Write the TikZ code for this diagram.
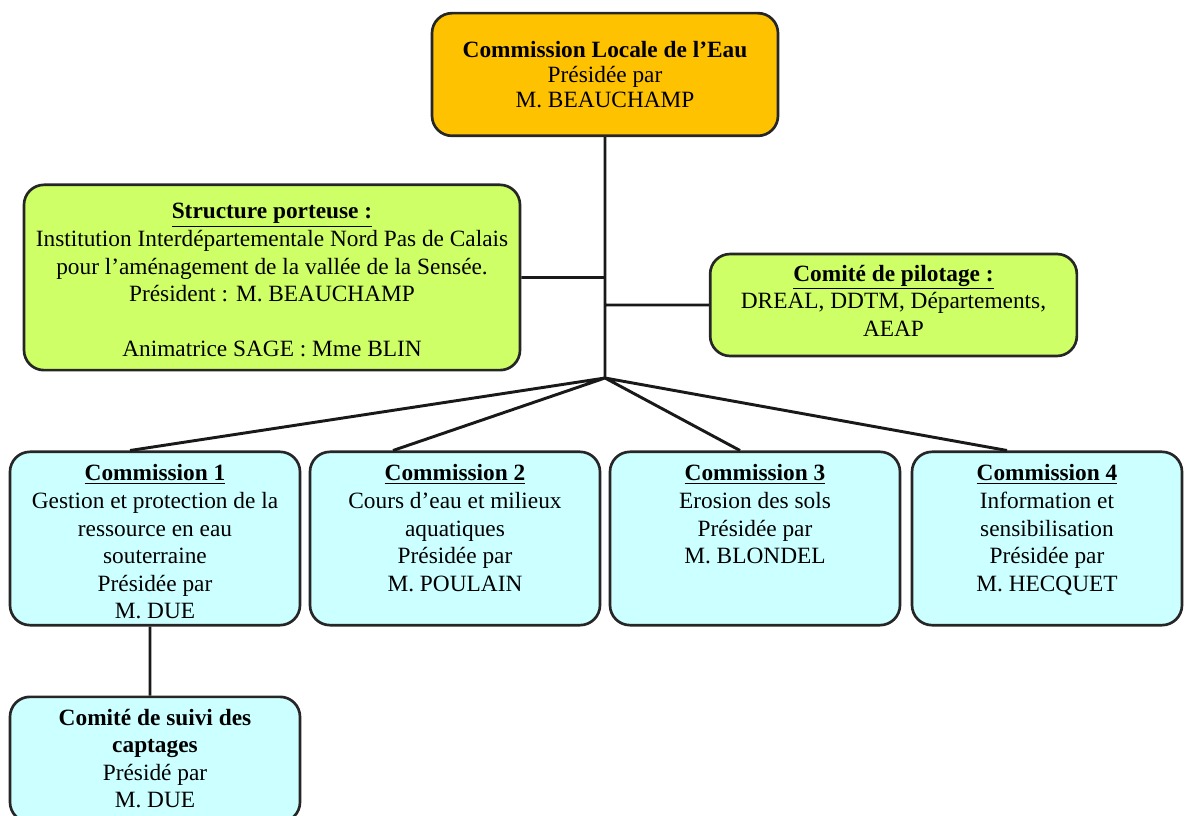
\documentclass[tikz,border=0pt]{standalone}
\usepackage{fontspec}
\setmainfont{Liberation Serif}
\usetikzlibrary{positioning}
\definecolor{cleorange}{RGB}{255,194,0}
\definecolor{limegreen}{RGB}{207,255,102}
\definecolor{paleblue}{RGB}{204,255,255}
\newcommand{\toptext}[4][9.6pt]{\parbox[c][#2][t]{#3}{\centering\vspace*{#1}#4}}

\begin{document}
\begin{tikzpicture}[x=0.75pt,y=-0.75pt,
  box/.style={draw=black!85,line width=2pt,rounded corners=15pt,inner sep=0pt,
    align=center,font=\fontsize{17.5}{20.7}\selectfont},
  link/.style={draw=black!90,line width=2.2pt}]

\useasboundingbox (0,0) rectangle (1193,816);

\node[box,fill=cleorange,minimum width=259.5pt,minimum height=92pt,font=\fontsize{17.5}{18.5}\selectfont] (cle) at (605,74.5)
  {\textbf{Commission Locale de l'Eau}\\Présidée par\\M. BEAUCHAMP};
\node[box,fill=limegreen] (porteuse) at (272,277.5)
  {\toptext[14pt]{139pt}{372pt}{\textbf{\underline{Structure porteuse :}}\\Institution Interdépartementale Nord Pas de Calais\\pour l'aménagement de la vallée de la Sensée.\\Président : M. BEAUCHAMP\\[20pt]Animatrice SAGE : Mme BLIN}};
\node[box,fill=limegreen] (pilotage) at (893.5,305)
  {\toptext[8.2pt]{76.5pt}{275pt}{\textbf{\underline{Comité de pilotage :}}\\DREAL, DDTM, Départements,\\AEAP}};

\node[box,fill=paleblue] (c1) at (155,538.5)
  {\toptext{130pt}{217.5pt}{\textbf{\underline{Commission 1}}\\Gestion et protection de la\\ressource en eau\\souterraine\\Présidée par\\M. DUE}};
\node[box,fill=paleblue] (c2) at (455,538.5)
  {\toptext{130pt}{217.5pt}{\textbf{\underline{Commission 2}}\\Cours d'eau et milieux\\aquatiques\\Présidée par\\M. POULAIN}};
\node[box,fill=paleblue] (c3) at (755,538.5)
  {\toptext{130pt}{217.5pt}{\textbf{\underline{Commission 3}}\\Erosion des sols\\Présidée par\\M. BLONDEL}};
\node[box,fill=paleblue] (c4) at (1047,538.5)
  {\toptext{130pt}{202.5pt}{\textbf{\underline{Commission 4}}\\Information et\\sensibilisation\\Présidée par\\M. HECQUET}};
\node[box,fill=paleblue] (suivi) at (155,759.5)
  {\toptext[9pt]{94pt}{217.5pt}{\textbf{Comité de suivi des}\\\textbf{captages}\\Présidé par\\M. DUE}};

\coordinate (hub) at (605,378);

\path[link]
  (cle.south) -- (hub)
  (porteuse.east) -- (porteuse.east -| hub)
  (pilotage.west) -- (pilotage.west -| hub)
  (hub) -- ([xshift=-18.75pt]c1.north)
  (hub) -- ([xshift=-46.5pt]c2.north)
  (hub) -- ([xshift=-11.25pt]c3.north)
  (hub) -- ([xshift=-30pt]c4.north)
  ([xshift=-3.75pt]c1.south) -- ([xshift=-3.75pt]suivi.north);
\end{tikzpicture}
\end{document}
